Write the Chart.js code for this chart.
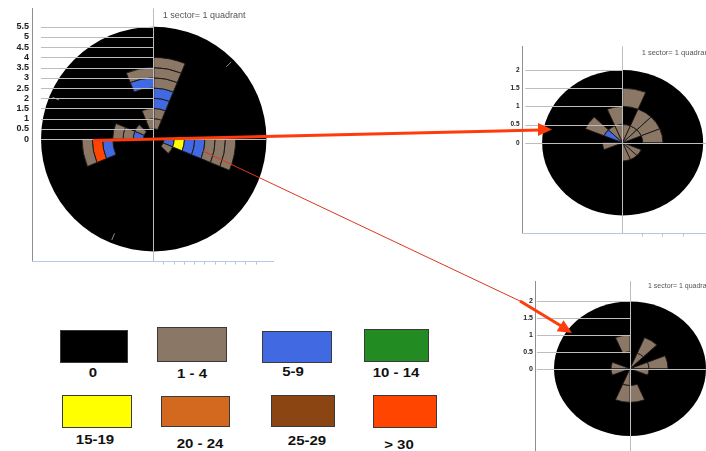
<!DOCTYPE html>
<html>
<head>
<meta charset="utf-8">
<script src="https://cdn.jsdelivr.net/npm/chart.js@4.4.1/dist/chart.umd.min.js"></script>
<style>
  html, body { margin: 0; padding: 0; background: #fff; width: 706px; height: 451px; overflow: hidden; }
  .panel { position: absolute; }
  .key { position: absolute; box-sizing: border-box; border: 1.5px solid #3a3a3a; }
  .key-label {
    position: absolute; white-space: nowrap; color: #111;
    font: bold 12.5px "Liberation Sans", Arial, sans-serif;
    transform: translate(-50%, -50%) scaleX(1.2);
  }
  #arrows { position: absolute; left: 0; top: 0; }
</style>
</head>
<body>
<canvas id="roseAll" class="panel" width="276" height="270" style="left:0;top:0"></canvas>
<canvas id="roseUpper" class="panel" width="210" height="200" style="left:500px;top:40px"></canvas>
<canvas id="roseLower" class="panel" width="197" height="184" style="left:513px;top:275px"></canvas>
<div id="key"></div>
<svg id="arrows" width="706" height="451" viewBox="0 0 706 451">
  <line x1="93" y1="140.5" x2="540" y2="130" stroke="#ff3b0b" stroke-width="3"/>
  <polygon points="552,129.5 538,123 538,136" fill="#ff3b0b"/>
  <line x1="203" y1="151" x2="522" y2="302" stroke="#d9381e" stroke-width="1"/>
  <line x1="520" y1="301" x2="562" y2="326.5" stroke="#ff3b0b" stroke-width="3"/>
  <polygon points="572,333 556.7,331.2 563.5,320.2" fill="#ff3b0b"/>
</svg>
<script>
// count classes and their colours
const countClasses = ['0', '1 - 4', '5-9', '10 - 14', '15-19', '20 - 24', '25-29', '> 30'];
const classColors = ['#000000', '#8b7765', '#4169e1', '#228b22', '#ffff00', '#d2691e', '#8b4513', '#ff4500'];

// 16 sectors, start bearing in degrees clockwise from north
const sectorStarts = [0, 22.5, 45, 67.5, 90, 112.5, 135, 157.5, 180, 202.5, 225, 247.5, 270, 292.5, 315, 337.5];
const sectorSpan = 22.5;

// y tick labels
const bigTicks = ['0', '0.5', '1', '1.5', '2', '2.5', '3', '3.5', '4', '4.5', '5', '5.5'];
const smallTicks = ['0', '0.5', '1', '1.5', '2'];

// class index per sector, one row per ring (0.5 wide), centre outward
const allRings = [
  [0, 0, 0, 0, 0, 0, 0, 0, 0, 0, 0, 0, 0, 0, 0, 0],
  [1, 0, 0, 0, 2, 1, 0, 0, 0, 0, 0, 0, 2, 1, 0, 1],
  [1, 0, 0, 0, 4, 0, 0, 0, 0, 0, 0, 0, 1, 0, 0, 1],
  [2, 0, 0, 0, 2, 0, 0, 0, 0, 0, 0, 0, 1, 0, 0, 0],
  [2, 0, 0, 0, 2, 0, 0, 0, 0, 0, 0, 2, 0, 0, 0, 0],
  [1, 0, 0, 0, 1, 0, 0, 0, 0, 0, 0, 7, 0, 0, 0, 2],
  [1, 0, 0, 0, 1, 0, 0, 0, 0, 0, 0, 1, 0, 0, 0, 1],
  [1, 0, 0, 0, 1, 0, 0, 0, 0, 0, 0, 0, 0, 0, 0, 0]
];
const upperRings = [
  [1, 1, 1, 0, 0, 1, 1, 1, 0, 0, 0, 1, 0, 2, 1, 1],
  [0, 1, 1, 1, 0, 0, 0, 0, 0, 0, 0, 0, 0, 1, 0, 1],
  [1, 0, 0, 0, 0, 0, 0, 0, 0, 0, 0, 0, 0, 0, 0, 0]
];
const lowerRings = [
  [0, 1, 0, 1, 1, 0, 0, 0, 1, 0, 0, 1, 1, 0, 0, 0],
  [0, 1, 0, 1, 0, 0, 0, 1, 1, 0, 0, 0, 0, 0, 0, 1]
];

// small compass marks on the big disk (bearings)
const allMarks = [45, 202.5, 292.5];

const sectorNote = '1 sector= 1 quadrant';

const axisBlue = '#b4c8df';
const guideGray = '#bdbdbd';
const clear = 'rgba(0,0,0,0)';

const near = (a, b) => Math.abs(a - b) < 1e-6;
const halfStep = v => near(v * 2, Math.round(v * 2));

// disk, ring sectors, guide lines and note, all placed through the x/y scales
const roseLayer = {
  id: 'roseLayer',
  beforeDatasetsDraw(chart, args, opts) {
    const { ctx, scales: { x, y } } = chart;
    const cx = x.getPixelForValue(0);
    const cy = y.getPixelForValue(0);
    const kx = x.getPixelForValue(1) - cx;
    const ky = cy - y.getPixelForValue(1);
    const rad = d => (d - 90) * Math.PI / 180;

    ctx.save();
    ctx.fillStyle = classColors[0];
    ctx.beginPath();
    ctx.ellipse(cx, cy, opts.radius * kx, opts.radius * ky, 0, 0, Math.PI * 2);
    ctx.fill();

    ctx.strokeStyle = 'rgba(30,24,22,0.9)';
    ctx.lineWidth = 1;
    opts.rings.forEach((row, k) => {
      row.forEach((cls, i) => {
        if (!cls) return;
        const a0 = rad(sectorStarts[i]);
        const a1 = rad(sectorStarts[i] + sectorSpan);
        const r0 = k * opts.ringStep;
        const r1 = r0 + opts.ringStep;
        ctx.save();
        ctx.translate(cx, cy);
        ctx.scale(kx, ky);
        ctx.beginPath();
        ctx.arc(0, 0, r1, a0, a1);
        ctx.arc(0, 0, r0, a1, a0, true);
        ctx.closePath();
        ctx.restore();
        ctx.fillStyle = classColors[cls];
        ctx.fill();
        ctx.stroke();
      });
    });

    ctx.strokeStyle = '#8c8c8c';
    (opts.marks || []).forEach(b => {
      const a = rad(b);
      ctx.beginPath();
      ctx.moveTo(cx + Math.cos(a) * 5.0 * kx, cy + Math.sin(a) * 5.0 * ky);
      ctx.lineTo(cx + Math.cos(a) * 5.35 * kx, cy + Math.sin(a) * 5.35 * ky);
      ctx.stroke();
    });
    ctx.restore();
  },
  afterDatasetsDraw(chart, args, opts) {
    const { ctx, scales: { x, y } } = chart;
    ctx.save();
    ctx.strokeStyle = guideGray;
    ctx.lineWidth = 1;
    opts.ticks.forEach(t => {
      const v = parseFloat(t);
      const py = Math.round(y.getPixelForValue(v)) + 0.5;
      const x0 = x.getPixelForValue(opts.guideFrom);
      const x1 = v === 0 ? x.getPixelForValue(opts.zeroTo) : x.getPixelForValue(0);
      ctx.beginPath();
      ctx.moveTo(x0, py);
      ctx.lineTo(x1, py);
      ctx.stroke();
    });
    ctx.restore();
  },
  afterDraw(chart, args, opts) {
    const { ctx, chartArea, scales: { x } } = chart;
    ctx.save();
    ctx.font = opts.noteFont;
    ctx.fillStyle = '#555';
    ctx.textBaseline = 'middle';
    ctx.fillText(sectorNote, x.getPixelForValue(0) + opts.noteDx, chartArea.top + opts.noteDy);
    ctx.restore();
  }
};

function drawRose(id, o) {
  return new Chart(document.getElementById(id), {
    type: 'scatter',
    data: { datasets: [] },
    options: {
      responsive: false,
      animation: false,
      events: [],
      layout: { padding: o.padding },
      plugins: {
        legend: { display: false },
        tooltip: { enabled: false },
        roseLayer: {
          rings: o.rings,
          ringStep: 0.5,
          radius: o.radius,
          marks: o.marks,
          ticks: o.ticks,
          guideFrom: o.guideFrom,
          zeroTo: o.zeroTo,
          noteFont: o.noteFont,
          noteDx: o.noteDx,
          noteDy: o.noteDy
        }
      },
      scales: {
        x: {
          type: 'linear',
          min: o.xMin,
          max: o.xMax,
          afterFit: s => { s.height = o.xAxisHeight; },
          ticks: { display: false, stepSize: 0.5, autoSkip: false },
          grid: {
            z: 1,
            drawTicks: true,
            tickLength: 3,
            color: c => (c.tick && near(c.tick.value, 0)) ? guideGray : clear,
            tickColor: c => (c.tick && c.tick.value > 0.01 && halfStep(c.tick.value)) ? axisBlue : clear
          },
          // same layer as the grid so the axis line sits at the bottom edge
          border: { display: true, color: axisBlue, width: 1, z: 1 }
        },
        y: {
          type: 'linear',
          min: o.yMin,
          max: o.yMax,
          afterFit: s => { s.width = o.yAxisWidth; },
          grid: { display: false, drawTicks: false },
          border: { display: true, color: '#8f8f8f', width: 1 },
          ticks: {
            stepSize: 0.5,
            autoSkip: false,
            padding: o.labelPad,
            color: '#222',
            font: { family: '"Liberation Sans", Arial, sans-serif', size: o.labelSize, weight: 'bold' },
            callback: v => {
              const s = String(v);
              return o.ticks.includes(s) ? s : '';
            }
          }
        }
      }
    },
    plugins: [roseLayer]
  });
}

drawRose('roseAll', {
  rings: allRings, radius: 5.5, marks: allMarks, ticks: bigTicks,
  xMin: -5.94, xMax: 5.82, yMin: -6, yMax: 6.4,
  padding: { top: 7, right: 3, bottom: 0, left: 0 },
  xAxisHeight: 8, yAxisWidth: 32, labelPad: 3, labelSize: 9,
  guideFrom: -5.5, zeroTo: 5.5,
  noteFont: '9px "Liberation Sans", Arial, sans-serif', noteDx: 9, noteDy: 7
});

drawRose('roseUpper', {
  rings: upperRings, radius: 2, marks: [], ticks: smallTicks,
  xMin: -2.5, xMax: 2.17, yMin: -2.5, yMax: 2.65,
  padding: { top: 5, right: 0, bottom: 0, left: 0 },
  xAxisHeight: 6, yAxisWidth: 22, labelPad: 2.5, labelSize: 6.5,
  guideFrom: -2.42, zeroTo: 2.17,
  noteFont: '7.5px "Liberation Sans", Arial, sans-serif', noteDx: 19, noteDy: 7
});

drawRose('roseLower', {
  rings: lowerRings, radius: 2, marks: [], ticks: smallTicks,
  xMin: -2.5, xMax: 2.105, yMin: -2.5, yMax: 2.6,
  padding: { top: 5, right: 0, bottom: 0, left: 0 },
  xAxisHeight: 6, yAxisWidth: 22, labelPad: 2, labelSize: 7,
  guideFrom: -2.45, zeroTo: 2.105,
  noteFont: '7px "Liberation Sans", Arial, sans-serif', noteDx: 18, noteDy: 5
});

// colour key: box [left, top, width, height] and label centre [x, y]
const keySlots = [
  [60, 330, 68, 33, 93, 373], [157, 327, 70, 35, 192, 374],
  [262, 331, 70, 32, 293, 372], [364, 329, 65, 33, 396, 373],
  [62, 395, 70, 33, 95, 440], [161, 396, 69, 31, 200, 444],
  [271, 395, 64, 32, 307, 441], [373, 395, 64, 33, 399, 445]
];
const key = document.getElementById('key');
countClasses.forEach((name, i) => {
  const [l, t, w, h, lx, ly] = keySlots[i];
  const box = document.createElement('div');
  box.className = 'key';
  box.style.cssText = `left:${l}px;top:${t}px;width:${w}px;height:${h}px;background:${classColors[i]}`;
  key.appendChild(box);
  const label = document.createElement('div');
  label.className = 'key-label';
  label.style.left = `${lx}px`;
  label.style.top = `${ly}px`;
  label.textContent = name;
  key.appendChild(label);
});
</script>
</body>
</html>
